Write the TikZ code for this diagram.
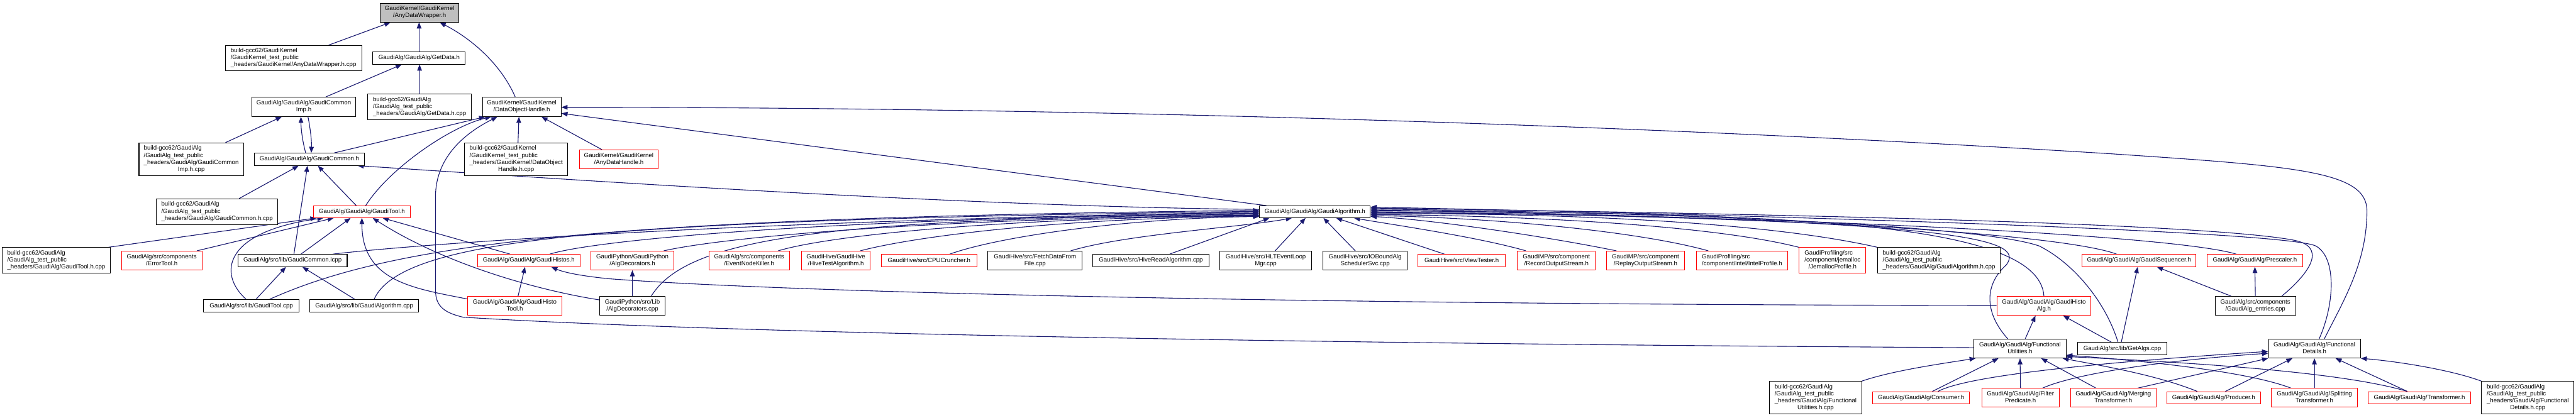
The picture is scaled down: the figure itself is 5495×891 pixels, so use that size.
\documentclass[tikz,border=0pt]{standalone}
\usepackage{fontspec}
\setmainfont{Liberation Sans}
\usetikzlibrary{arrows.meta,calc}
\definecolor{edgecol}{RGB}{25,25,112}
\definecolor{rootgrey}{RGB}{191,191,191}
\newcommand\nodefnt{\fontsize{6.5}{7.5}\selectfont}
\newcommand\mlab[2]{\begin{tabular}{@{}l@{}}#1\multicolumn{1}{@{}c@{}}{#2}\end{tabular}}
\pgfdeclarelayer{bg}
\pgfsetlayers{bg,main}
\tikzset{
  gbox/.style={draw=black, line width=0.7pt, fill=white, inner sep=0pt, font=\nodefnt},
  rbox/.style={gbox, draw=red},
  rootbox/.style={gbox, fill=rootgrey},
  dep/.style={draw=edgecol, line width=0.75pt, -{Triangle[length=6.5pt,width=5pt]}},
}
\begin{document}
\begin{tikzpicture}[x=0.5pt,y=-0.5pt]
\useasboundingbox (0,0) rectangle (5495,891);
% ---------------- nodes ----------------
\node[rootbox, minimum width=83.5pt, minimum height=20pt] (n0) at (895,27) {\mlab{GaudiKernel/GaudiKernel\\}{/AnyDataWrapper.h}};
\node[gbox, minimum width=145.5pt, minimum height=27pt] (n1) at (626,124) {\mlab{build-gcc62/GaudiKernel\\/GaudiKernel\_test\_public\\}{\_headers/GaudiKernel/AnyDataWrapper.h.cpp}};
\node[gbox, minimum width=98.5pt, minimum height=13pt] (n2) at (894,124) {GaudiAlg/GaudiAlg/GetData.h};
\node[gbox, minimum width=111pt, minimum height=20.5pt] (n3) at (648,228) {\mlab{GaudiAlg/GaudiAlg/GaudiCommon\\}{Imp.h}};
\node[gbox, minimum width=111pt, minimum height=27.5pt] (n4) at (895,228) {\mlab{build-gcc62/GaudiAlg\\/GaudiAlg\_test\_public\\}{\_headers/GaudiAlg/GetData.h.cpp}};
\node[gbox, minimum width=84pt, minimum height=20.5pt] (n5) at (1113,228) {\mlab{GaudiKernel/GaudiKernel\\}{/DataObjectHandle.h}};
\node[gbox, minimum width=111.5pt, minimum height=35pt] (n6) at (408,340) {\mlab{build-gcc62/GaudiAlg\\/GaudiAlg\_test\_public\\\_headers/GaudiAlg/GaudiCommon\\}{Imp.h.cpp}};
\node[gbox, minimum width=117pt, minimum height=13pt] (n7) at (660,340) {GaudiAlg/GaudiAlg/GaudiCommon.h};
\node[gbox, minimum width=110pt, minimum height=35pt] (n8) at (1101,340) {\mlab{build-gcc62/GaudiKernel\\/GaudiKernel\_test\_public\\\_headers/GaudiKernel/DataObject\\}{Handle.h.cpp}};
\node[rbox, minimum width=83.5pt, minimum height=20pt] (n9) at (1320,340) {\mlab{GaudiKernel/GaudiKernel\\}{/AnyDataHandle.h}};
\node[gbox, minimum width=129.5pt, minimum height=27.5pt] (n10) at (463,452) {\mlab{build-gcc62/GaudiAlg\\/GaudiAlg\_test\_public\\}{\_headers/GaudiAlg/GaudiCommon.h.cpp}};
\node[rbox, minimum width=103pt, minimum height=12.5pt] (n11) at (772,452) {GaudiAlg/GaudiAlg/GaudiTool.h};
\node[gbox, minimum width=118pt, minimum height=12.5pt] (n12) at (2805,452) {GaudiAlg/GaudiAlg/GaudiAlgorithm.h};
% row 5
\node[gbox, minimum width=115pt, minimum height=27.5pt] (n13) at (120,556) {\mlab{build-gcc62/GaudiAlg\\/GaudiAlg\_test\_public\\}{\_headers/GaudiAlg/GaudiTool.h.cpp}};
\node[rbox, minimum width=86pt, minimum height=20pt] (n14) at (345,556) {\mlab{GaudiAlg/src/components\\}{/ErrorTool.h}};
\node[gbox, minimum width=116.5pt, minimum height=13pt] (n15) at (624,556) {GaudiAlg/src/lib/GaudiCommon.icpp};
\node[rbox, minimum width=109.5pt, minimum height=13pt] (n16) at (1128,556) {GaudiAlg/GaudiAlg/GaudiHistos.h};
\node[rbox, minimum width=88pt, minimum height=20pt] (n17) at (1349,556) {\mlab{GaudiPython/GaudiPython\\}{/AlgDecorators.h}};
\node[rbox, minimum width=86pt, minimum height=20pt] (n18) at (1598,556) {\mlab{GaudiAlg/src/components\\}{/EventNodeKiller.h}};
\node[rbox, minimum width=73.5pt, minimum height=20pt] (n19) at (1783,556) {\mlab{GaudiHive/GaudiHive\\}{/HiveTestAlgorithm.h}};
\node[rbox, minimum width=102pt, minimum height=13pt] (n20) at (1982,556) {GaudiHive/src/CPUCruncher.h};
\node[gbox, minimum width=100.5pt, minimum height=20pt] (n21) at (2208,556) {\mlab{GaudiHive/src/FetchDataFrom\\}{File.cpp}};
\node[gbox, minimum width=123.5pt, minimum height=13pt] (n22) at (2455,556) {GaudiHive/src/HiveReadAlgorithm.cpp};
\node[gbox, minimum width=98pt, minimum height=20pt] (n23) at (2700,556) {\mlab{GaudiHive/src/HLTEventLoop\\}{Mgr.cpp}};
\node[gbox, minimum width=90pt, minimum height=20pt] (n24) at (2912,556) {\mlab{GaudiHive/src/IOBoundAlg\\}{SchedulerSvc.cpp}};
\node[rbox, minimum width=93.5pt, minimum height=13pt] (n25) at (3118,556) {GaudiHive/src/ViewTester.h};
\node[rbox, minimum width=83pt, minimum height=20pt] (n26) at (3320,556) {\mlab{GaudiMP/src/component\\}{/RecordOutputStream.h}};
\node[rbox, minimum width=83.5pt, minimum height=20pt] (n27) at (3510,556) {\mlab{GaudiMP/src/component\\}{/ReplayOutputStream.h}};
\node[rbox, minimum width=97pt, minimum height=20pt] (n28) at (3716,556) {\mlab{GaudiProfiling/src\\}{/component/intel/IntelProfile.h}};
\node[rbox, minimum width=71pt, minimum height=27.5pt] (n29) at (3909,556) {\mlab{GaudiProfiling/src\\/component/jemalloc\\}{/JemallocProfile.h}};
\node[gbox, minimum width=130.5pt, minimum height=27.5pt] (n30) at (4136,556) {\mlab{build-gcc62/GaudiAlg\\/GaudiAlg\_test\_public\\}{\_headers/GaudiAlg/GaudiAlgorithm.h.cpp}};
\node[rbox, minimum width=121.5pt, minimum height=13pt] (n31) at (4563,556) {GaudiAlg/GaudiAlg/GaudiSequencer.h};
\node[rbox, minimum width=101.5pt, minimum height=13pt] (n32) at (4810,556) {GaudiAlg/GaudiAlg/Prescaler.h};
% row 6
\node[rbox, minimum width=101pt, minimum height=20pt] (n33) at (1098,653) {\mlab{GaudiAlg/GaudiAlg/GaudiHisto\\}{Tool.h}};
\node[gbox, minimum width=70pt, minimum height=20pt] (n34) at (1349,653) {\mlab{GaudiPython/src/Lib\\}{/AlgDecorators.cpp}};
\node[gbox, minimum width=101.5pt, minimum height=13.5pt] (n35) at (536,653) {GaudiAlg/src/lib/GaudiTool.cpp};
\node[gbox, minimum width=116pt, minimum height=13.5pt] (n36) at (777,653) {GaudiAlg/src/lib/GaudiAlgorithm.cpp};
\node[rbox, minimum width=100.5pt, minimum height=20pt] (n37) at (4360,653) {\mlab{GaudiAlg/GaudiAlg/GaudiHisto\\}{Alg.h}};
\node[gbox, minimum width=86pt, minimum height=20pt] (n38) at (4811,653) {\mlab{GaudiAlg/src/components\\}{/GaudiAlg\_entries.cpp}};
% row 7
\node[gbox, minimum width=98pt, minimum height=20pt] (n39) at (4309,744) {\mlab{GaudiAlg/GaudiAlg/Functional\\}{Utilities.h}};
\node[gbox, minimum width=95.5pt, minimum height=13pt] (n40) at (4527,744) {GaudiAlg/src/lib/GetAlgs.cpp};
\node[gbox, minimum width=98pt, minimum height=20pt] (n41) at (4937,744) {\mlab{GaudiAlg/GaudiAlg/Functional\\}{Details.h}};
% row 8
\node[gbox, minimum width=98pt, minimum height=35pt] (n42) at (3873,849) {\mlab{build-gcc62/GaudiAlg\\/GaudiAlg\_test\_public\\\_headers/GaudiAlg/Functional\\}{Utilities.h.cpp}};
\node[rbox, minimum width=103.5pt, minimum height=13pt] (n43) at (4098,849) {GaudiAlg/GaudiAlg/Consumer.h};
\node[rbox, minimum width=82.5pt, minimum height=20pt] (n44) at (4310,849) {\mlab{GaudiAlg/GaudiAlg/Filter\\}{Predicate.h}};
\node[rbox, minimum width=91pt, minimum height=20pt] (n45) at (4508,849) {\mlab{GaudiAlg/GaudiAlg/Merging\\}{Transformer.h}};
\node[rbox, minimum width=100pt, minimum height=13pt] (n46) at (4722,849) {GaudiAlg/GaudiAlg/Producer.h};
\node[rbox, minimum width=91.5pt, minimum height=20pt] (n47) at (4937,849) {\mlab{GaudiAlg/GaudiAlg/Splitting\\}{Transformer.h}};
\node[rbox, minimum width=109pt, minimum height=13pt] (n48) at (5161,849) {GaudiAlg/GaudiAlg/Transformer.h};
\node[gbox, minimum width=98.5pt, minimum height=35pt] (n49) at (5392,849) {\mlab{build-gcc62/GaudiAlg\\/GaudiAlg\_test\_public\\\_headers/GaudiAlg/Functional\\}{Details.h.cpp}};
% ---------------- edges ----------------
\begin{pgfonlayer}{bg}
\fill[white] (0,0) rectangle (5495,891);
% top part
\draw[dep] ($(n1.north)+(75,0)$) -- ($(n0.south)+(-62,0)$);
\draw[dep] (n2.north) -- (n0.south -| n2.north);
\draw[dep] ($(n5.north)+(-14,0)$) .. controls (1070,140) and (1010,85) .. ($(n0.south)+(43,0)$);
\draw[dep] ($(n3.north)+(47,0)$) -- ($(n2.south)+(-37,0)$);
\draw[dep] (n4.north) -- (n2.south -| n4.north);
\draw[dep] ($(n6.north)+(73,0)$) -- ($(n3.south)+(-47,0)$);
\draw[dep] ($(n7.north)+(-8,0)$) .. controls (645,300) and (642,275) .. ($(n3.south)+(-6,0)$);
\draw[dep] ($(n3.south)+(9,0)$) .. controls (662,275) and (665,300) .. ($(n7.north)+(4,0)$);
\draw[dep] ($(n7.north)+(53,0)$) -- ($(n5.south)+(-78,0)$);
\draw[dep] ($(n11.north)+(8,0)$) .. controls (830,360) and (960,270) .. ($(n5.south)+(-65,0)$);
\draw[dep] ($(n39.west)+(0,-2)$) .. controls (3000,735) and (1600,715) .. (988,677)
   .. controls (950,668) and (929,655) .. (929,620) -- (929,420)
   .. controls (929,330) and (1000,280) .. ($(n5.south)+(-52,0)$);
\draw[dep] ($(n8.north)+(4,0)$) -- ($(n5.south)+(-6,0)$);
\draw[dep] ($(n9.north)+(-36,0)$) -- ($(n5.south)+(42,0)$);
\draw[dep] ($(n12.north west)+(15,0)$) -- ($(n5.east)+(0,14)$);
\draw[dep] ($(n41.north)+(21,0)$) .. controls (5000,640) and (5049,560) .. (5049,450)
   .. controls (5049,365) and (4900,355) .. (4500,328)
   .. controls (3600,272) and (2400,229) .. ($(n5.east)+(0,1)$);
\draw[dep] ($(n12.west)+(0,-5)$) .. controls (2000,440) and (1100,375) .. ($(n7.south east)+(-15,0)$);
\draw[dep] ($(n10.north)+(47,0)$) -- ($(n7.south)+(-23,0)$);
\draw[dep] ($(n15.north)+(3,0)$) -- ($(n7.south)+(-4,0)$);
\draw[dep] ($(n11.north)+(-12,0)$) -- ($(n7.south)+(18,0)$);
% into GaudiTool.h
\draw[dep] ($(n13.north east)+(-5,0)$) -- ($(n11.south)+(-97,0)$);
\draw[dep] ($(n14.north)+(75,0)$) -- ($(n11.south)+(-60,0)$);
\draw[dep] ($(n35.north)+(-11,0)$) .. controls (465,585) and (475,495) .. ($(n11.south)+(-82,0)$);
\draw[dep] ($(n15.north)+(18,0)$) -- ($(n11.south)+(-24,0)$);
\draw[dep] ($(n33.west)+(0,-15)$) .. controls (880,615) and (772,600) .. (n11.south);
\draw[dep] ($(n34.west)+(0,-13)$) .. controls (1150,620) and (950,565) .. ($(n11.south)+(23,0)$);
\draw[dep] ($(n16.north)+(-40,0)$) -- ($(n11.south)+(44,0)$);
% GaudiHistos / AlgDecorators / GaudiCommon.icpp
\draw[dep] ($(n33.north)+(7,0)$) -- ($(n16.south)+(-8,0)$);
\draw[dep] ($(n37.west)+(0,-1)$) .. controls (2800,650) and (1700,625) .. (1300,595)
   .. controls (1230,588) and (1200,580) .. ($(n16.south)+(48,0)$);
\draw[dep] (n34.north) -- (n17.south);
\draw[dep] ($(n35.north)+(10,0)$) -- ($(n15.south)+(-14,0)$);
\draw[dep] ($(n36.north)+(-20,0)$) -- ($(n15.south)+(21,0)$);
% into GaudiAlgorithm.h from the left
\draw[dep] ($(n35.north)+(39,0)$) .. controls (850,515) and (1300,465) .. ($(n12.west)+(0,-3)$);
\draw[dep] ($(n36.north)+(21,0)$) .. controls (860,500) and (1350,470) .. ($(n12.west)+(0,-1)$);
\draw[dep] ($(n15.north)+(86,0)$) .. controls (900,520) and (1600,470) .. ($(n12.west)+(0,1)$);
\draw[dep] ($(n16.north)+(45,0)$) .. controls (1260,515) and (1700,468) .. ($(n12.west)+(0,3)$);
\draw[dep] ($(n34.north)+(40,0)$) .. controls (1470,500) and (1800,468) .. ($(n12.west)+(0,5)$);
\draw[dep] ($(n17.north)+(67,0)$) .. controls (1550,505) and (2000,466) .. ($(n12.west)+(0,7)$);
\draw[dep] ($(n18.north)+(62,0)$) .. controls (1760,505) and (2100,466) .. ($(n12.west)+(0,8)$);
\draw[dep] ($(n19.north)+(52,0)$) .. controls (1950,505) and (2250,466) .. ($(n12.west)+(0,9)$);
\draw[dep] ($(n20.north)+(44,0)$) .. controls (2130,505) and (2400,466) .. ($(n12.west)+(0,10)$);
% into GaudiAlgorithm.h from below
\draw[dep] ($(n21.north)+(76,0)$) .. controls (2400,500) and (2650,485) .. ($(n12.south)+(-49,0)$);
\draw[dep] ($(n22.north)+(40,0)$) -- ($(n12.south)+(-97,0)$);
\draw[dep] ($(n23.north)+(20,0)$) -- ($(n12.south)+(-20,0)$);
\draw[dep] ($(n24.north)+(-21,0)$) -- ($(n12.south)+(18,0)$);
\draw[dep] ($(n25.north)+(-37,0)$) -- ($(n12.south)+(45,0)$);
\draw[dep] ($(n26.north)+(-65,0)$) .. controls (3150,505) and (2960,478) .. ($(n12.south)+(83,0)$);
% into GaudiAlgorithm.h from the right
\draw[dep] ($(n27.north)+(-62,0)$) .. controls (3300,505) and (3050,468) .. ($(n12.east)+(0,10)$);
\draw[dep] ($(n28.north)+(-72,0)$) .. controls (3500,495) and (3200,465) .. ($(n12.east)+(0,8)$);
\draw[dep] (n29.north west) .. controls (3650,480) and (3250,460) .. ($(n12.east)+(0,6)$);
\draw[dep] (n30.north west) .. controls (3750,470) and (3300,455) .. ($(n12.east)+(0,4)$);
\draw[dep] ($(n31.north)+(-48,0)$) .. controls (4400,500) and (3800,458) .. ($(n12.east)+(0,2)$);
\draw[dep] ($(n32.north)+(-40,0)$) .. controls (4650,505) and (3900,462) .. (n12.east);
\draw[dep] (n37.north) .. controls (4350,470) and (3800,455) .. ($(n12.east)+(0,-2)$);
\draw[dep] ($(n39.north)+(-26,0)$) .. controls (4235,670) and (4230,610) .. (4280,565)
   .. controls (4320,510) and (4200,470) .. ($(n12.east)+(0,-4)$);
\draw[dep] ($(n40.north)+(-9,0)$) .. controls (4490,640) and (4420,560) .. (4350,525)
   .. controls (4250,490) and (3800,458) .. ($(n12.east)+(0,-6)$);
\draw[dep] ($(n38.north)+(56,0)$) .. controls (4930,580) and (4965,525) .. (4890,512)
   .. controls (4700,478) and (3900,458) .. ($(n12.east)+(0,-8)$);
\draw[dep] ($(n41.north)+(10,0)$) .. controls (4980,650) and (4985,550) .. (4940,525)
   .. controls (4880,495) and (3900,462) .. ($(n12.east)+(0,-10)$);
% lower right part
\draw[dep] ($(n39.north)+(11,0)$) -- ($(n37.south)+(-18,0)$);
\draw[dep] ($(n40.north)+(-23,0)$) -- ($(n37.south)+(41,0)$);
\draw[dep] ($(n40.north)+(-2,0)$) -- ($(n31.south)+(-3,0)$);
\draw[dep] ($(n38.north)+(-51,0)$) -- ($(n31.south)+(38,0)$);
\draw[dep] (n38.north) -- (n32.south);
\draw[dep] (n42.north east) .. controls (4040,790) and (4150,775) .. ($(n39.south west)+(4,0)$);
\draw[dep] ($(n43.north)+(24,0)$) -- ($(n39.south)+(-46,0)$);
\draw[dep] (n44.north) -- (n39.south);
\draw[dep] ($(n45.north)+(-37,0)$) -- ($(n39.south)+(45,0)$);
\draw[dep] ($(n46.north)+(-35,0)$) .. controls (4600,800) and (4480,780) .. ($(n39.south east)+(-8,0)$);
\draw[dep] ($(n47.north)+(-50,0)$) .. controls (4800,795) and (4600,772) .. ($(n39.east)+(0,14)$);
\draw[dep] ($(n48.north)+(-26,0)$) .. controls (5000,795) and (4700,775) .. ($(n39.east)+(0,17)$);
\draw[dep] ($(n43.north)+(36,0)$) .. controls (4200,800) and (4500,772) .. ($(n41.west)+(0,6)$);
\draw[dep] ($(n44.north)+(47,0)$) .. controls (4420,800) and (4600,770) .. ($(n41.west)+(0,10)$);
\draw[dep] ($(n45.north)+(52,0)$) -- (n41.south west);
\draw[dep] ($(n46.north)+(25,0)$) -- ($(n41.south)+(-47,0)$);
\draw[dep] (n47.north) -- (n41.south);
\draw[dep] ($(n48.north)+(-26,0)$) -- ($(n41.south)+(45,0)$);
\draw[dep] (n49.north west) .. controls (5230,790) and (5120,772) .. (n41.south east);
\end{pgfonlayer}
\end{tikzpicture}
\end{document}
